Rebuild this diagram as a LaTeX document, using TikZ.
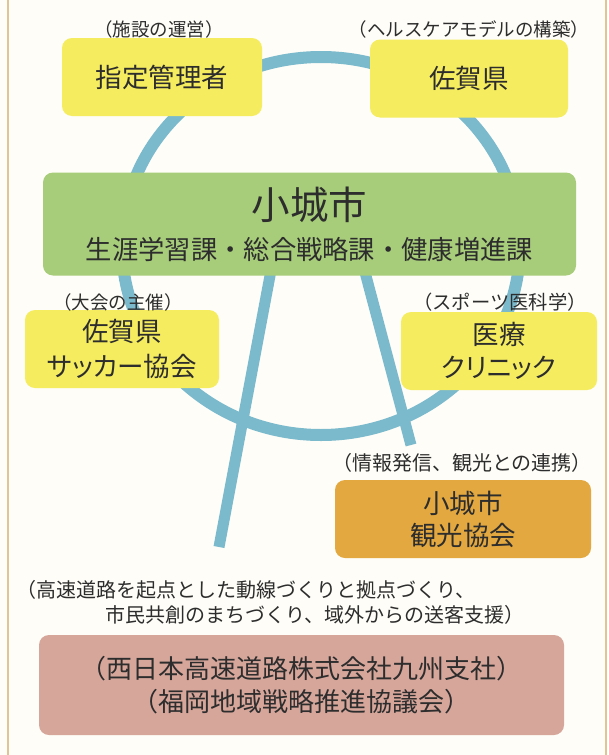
\documentclass[tikz,border=0pt]{standalone}
\usepackage{fontspec}
\setmainfont{Noto Sans CJK JP}
\newfontfamily\paltfont{Noto Sans CJK JP}[RawFeature=+palt]
\usetikzlibrary{positioning,calc}

\definecolor{paper}{RGB}{254,253,247}
\definecolor{frametan}{RGB}{222,196,150}
\definecolor{ringblue}{RGB}{123,185,205}
\definecolor{lemon}{RGB}{245,236,95}
\definecolor{leaf}{RGB}{167,205,122}
\definecolor{amber}{RGB}{227,168,63}
\definecolor{rose}{RGB}{214,166,155}
\definecolor{ink}{RGB}{45,45,45}

\pgfdeclarelayer{paperlayer}
\pgfdeclarelayer{ringlayer}
\pgfsetlayers{paperlayer,ringlayer,main}

\begin{document}
\begin{tikzpicture}[x=1pt,y=-1pt]

\tikzstyle{block} = [rounded corners=10pt, minimum height=78pt, align=center, text=ink, inner sep=0pt]
\tikzstyle{note} = [font=\fontsize{18.5}{20}\selectfont, text=ink, inner sep=0pt]
\tikzset{spoke/.style={draw=ringblue, line width=11pt}, ring/.style={draw=ringblue, line width=12pt}}

\useasboundingbox (0,0) rectangle (608,755);

% partners round the city
\node[block, fill=lemon, minimum width=200pt, font=\fontsize{26.5}{32}\selectfont] (manager) at (162,77) {指定管理者};
\node[block, fill=lemon, minimum width=198pt, font=\fontsize{26.5}{32}\selectfont] (prefecture) at (469,78.5) {佐賀県};
\node[block, fill=leaf, minimum width=533pt, minimum height=103pt, font=\fontsize{26.3}{40}\selectfont] (city) at (309.5,224) {{\fontsize{38.5}{40}\selectfont 小城市}\\生涯学習課・総合戦略課・健康増進課};
\node[block, fill=lemon, minimum width=194pt, font=\fontsize{26.5}{35}\selectfont] (soccer) at (122,349) {佐賀県\\{\paltfont サッカー協会}};
\node[block, fill=lemon, minimum width=196pt, font=\fontsize{26.5}{33}\selectfont] (clinic) at (499,351) {医療\\{\paltfont クリニック}};
\node[block, fill=amber, minimum width=256pt, font=\fontsize{26.5}{32}\selectfont] (tourism) at (463,519) {小城市\\観光協会};
\node[block, fill=rose, minimum width=525pt, minimum height=100pt, font=\fontsize{26}{33}\selectfont] (nexco) at (301.5,685) {（西日本高速道路株式会社九州支社）\\（福岡地域戦略推進協議会）};

\node[note] (managerrole) at (159,29) {（施設の運営）};
\node[note] (prefrole) at (469,29) {（ヘルスケアモデルの構築）};
\node[note] (soccerrole) at (118,302) {（大会の主催）};
\node[note, font=\fontsize{19.3}{20}\selectfont] (clinicrole) at (500,302) {（スポーツ医科学）};
\node[note, font=\fontsize{20}{20}\selectfont] (tourismrole) at (462,463) {（情報発信、観光との連携）};
\node[note, font=\fontsize{20}{25}\selectfont, align=left, anchor=west] (nexcorole) at (16,602.5) {（高速道路を起点とした動線づくりと拠点づくり、\\\hspace*{89pt}市民共創のまちづくり、域外からの送客支援）};

\coordinate (leftfoot) at (219,547);
\coordinate (rightfoot) at (411,445);

\begin{pgfonlayer}{ringlayer}
\draw[ring] (321,246) ellipse [x radius=199pt, y radius=189pt];
\draw[spoke] ($(city.south)+(-38,-8)$) -- (leftfoot);
\draw[spoke] ($(city.south)+(54.3,-8)$) -- (rightfoot);
\end{pgfonlayer}

\begin{pgfonlayer}{paperlayer}
\fill[paper] (0,0) rectangle (608,755);
\draw[frametan, line width=1.5pt] (8,0) -- (8,755);
\draw[frametan, line width=1.5pt] (606,0) -- (606,755);
\end{pgfonlayer}

\end{tikzpicture}
\end{document}
